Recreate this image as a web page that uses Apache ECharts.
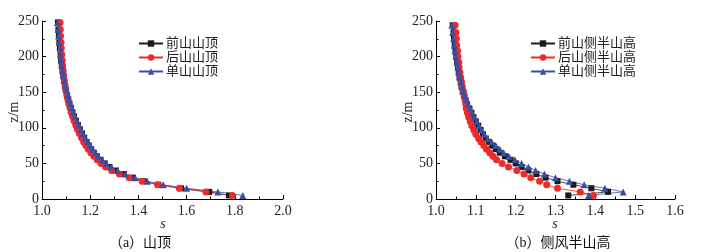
<!DOCTYPE html>
<html>
<head>
<meta charset="utf-8">
<script src="https://cdn.jsdelivr.net/npm/echarts@6/dist/echarts.min.js"></script>
<style>
  html, body { margin: 0; padding: 0; background: #fff; }
  #chart { width: 701px; height: 252px; }
</style>
</head>
<body>
<div id="chart"></div>
<script>
const SERIF = "'Liberation Serif', 'Times New Roman', 'Noto Sans CJK SC', serif";

// (a) 山顶
const heightsA = [5, 10, 15, 20, 25, 30, 35, 40, 45, 50, 55, 60, 65, 70, 75, 80, 86, 92, 98, 104,
	110, 116, 122, 128, 134, 140, 146, 153, 159, 166, 173, 180, 187, 195, 203, 212, 220, 229, 238, 248];
const qianA = [1.776, 1.694, 1.577, 1.483, 1.422, 1.378, 1.340, 1.306, 1.280, 1.260, 1.243, 1.228, 1.215, 1.204, 1.194, 1.185, 1.175, 1.166, 1.157, 1.149,
	1.141, 1.133, 1.126, 1.120, 1.114, 1.109, 1.104, 1.099, 1.095, 1.091, 1.088, 1.085, 1.082, 1.079, 1.077, 1.074, 1.072, 1.070, 1.068, 1.066];
const houA = [1.790, 1.680, 1.570, 1.480, 1.416, 1.362, 1.321, 1.289, 1.264, 1.245, 1.229, 1.215, 1.203, 1.192, 1.182, 1.173, 1.164, 1.155, 1.147, 1.140,
	1.133, 1.127, 1.121, 1.116, 1.111, 1.107, 1.103, 1.099, 1.096, 1.093, 1.090, 1.088, 1.086, 1.084, 1.082, 1.080, 1.079, 1.077, 1.076, 1.075];
const danA = [1.833, 1.730, 1.600, 1.503, 1.437, 1.386, 1.346, 1.314, 1.288, 1.267, 1.250, 1.235, 1.222, 1.210, 1.200, 1.190, 1.180, 1.170, 1.161, 1.153,
	1.145, 1.137, 1.130, 1.124, 1.118, 1.112, 1.107, 1.102, 1.097, 1.093, 1.089, 1.086, 1.083, 1.080, 1.077, 1.075, 1.072, 1.069, 1.067, 1.064];

// (b) 侧风半山高
const heightsB = [5, 10, 15, 20, 25, 30, 35, 40, 45, 50, 55, 60, 65, 70, 75, 80, 85, 91, 97, 103,
	109, 115, 121, 127, 133, 139, 145, 151, 158, 164, 171, 178, 185, 192, 200, 208, 216, 225, 234, 244];
const qianB = [1.332, 1.432, 1.390, 1.345, 1.305, 1.275, 1.252, 1.232, 1.215, 1.200, 1.187, 1.173, 1.160, 1.150, 1.141, 1.133, 1.125, 1.118, 1.112, 1.106,
	1.100, 1.094, 1.089, 1.084, 1.078, 1.074, 1.070, 1.067, 1.064, 1.062, 1.059, 1.057, 1.055, 1.053, 1.051, 1.049, 1.047, 1.045, 1.044, 1.042];
const houB = [1.395, 1.362, 1.305, 1.278, 1.260, 1.238, 1.221, 1.203, 1.182, 1.166, 1.152, 1.143, 1.135, 1.127, 1.120, 1.113, 1.107, 1.100, 1.095, 1.090,
	1.086, 1.082, 1.079, 1.076, 1.075, 1.073, 1.071, 1.069, 1.066, 1.064, 1.062, 1.060, 1.058, 1.057, 1.055, 1.054, 1.052, 1.051, 1.050, 1.048];
const danB = [1.383, 1.470, 1.424, 1.372, 1.335, 1.300, 1.272, 1.250, 1.232, 1.215, 1.198, 1.183, 1.170, 1.160, 1.150, 1.140, 1.130, 1.121, 1.114, 1.108,
	1.102, 1.096, 1.091, 1.086, 1.081, 1.077, 1.073, 1.069, 1.066, 1.063, 1.060, 1.057, 1.055, 1.053, 1.050, 1.048, 1.046, 1.044, 1.042, 1.040];

const namesA = ["前山山顶", "后山山顶", "单山山顶"];
const namesB = ["前山侧半山高", "后山侧半山高", "单山侧半山高"];
const captions = ["（a）山顶", "（b）侧风半山高"];
const xName = "s";
const yName = "z/m";

const COLORS = ["#1a1a1a", "#ee2a2a", "#3b4ea6"];
const SYMBOLS = ["rect", "circle", "triangle"];
const SIZES = [6, 7, 7];

function pairs (xs, zs) {
	return xs.map((v, i) => [v, zs[i]]);
}

function makeSeries (name, xs, zs, k, idx) {
	return {
		name: name,
		type: "line",
		xAxisIndex: idx,
		yAxisIndex: idx,
		data: pairs(xs, zs),
		symbol: SYMBOLS[k],
		symbolSize: SIZES[k],
		color: COLORS[k],
		lineStyle: { width: 0.8, color: COLORS[k] },
		itemStyle: { color: COLORS[k] },
		animation: false
	};
}

const axisCommon = {
	type: "value",
	axisLine: { show: true, lineStyle: { color: "#000", width: 1 } },
	axisTick: { show: true, inside: true, length: 4, lineStyle: { color: "#000" } },
	minorTick: { show: true, splitNumber: 2, length: 2.5, lineStyle: { color: "#000" } },
	splitLine: { show: false }
};

function xAxis (idx, max, interval) {
	return Object.assign({}, axisCommon, {
		gridIndex: idx,
		min: 1,
		max: max,
		interval: interval,
		axisLabel: { fontFamily: SERIF, fontSize: 14, color: "#222", margin: 5, formatter: v => v.toFixed(1) }
	});
}

function yAxis (idx) {
	return Object.assign({}, axisCommon, {
		gridIndex: idx,
		min: 0,
		max: 250,
		interval: 50,
		axisLabel: { fontFamily: SERIF, fontSize: 14, color: "#222", margin: 3 }
	});
}

function legend (names, left) {
	return {
		data: names,
		orient: "vertical",
		left: left,
		top: 32,
		itemWidth: 24,
		itemHeight: 8,
		itemGap: 1,
		textStyle: { fontFamily: SERIF, fontSize: 13, color: "#222", padding: [0, 0, 0, -2] }
	};
}

// axis names drawn as plain text next to each grid
function nameText (text, x, y, rotate, italic) {
	return {
		type: "text",
		x: x,
		y: y,
		rotation: rotate ? Math.PI / 2 : 0,
		style: {
			text: text,
			font: (italic ? "italic " : "") + "14px " + SERIF,
			fill: "#222",
			align: "center",
			verticalAlign: "middle"
		}
	};
}

const chart = echarts.init(document.getElementById("chart"));

const option = {
	backgroundColor: "#fff",
	animation: false,
	grid: [
		{ left: 42, top: 21, width: 241, bottom: 53 },
		{ left: 436, top: 21, width: 239, bottom: 53 }
	],
	xAxis: [xAxis(0, 2.0, 0.2), xAxis(1, 1.6, 0.1)],
	yAxis: [yAxis(0), yAxis(1)],
	legend: [legend(namesA, 133), legend(namesB, 525)],
	title: [
		{ text: captions[0], left: 135, top: 231, textAlign: "center", textStyle: { fontFamily: SERIF, fontSize: 14, fontWeight: "normal", color: "#111" } },
		{ text: captions[1], left: 553, top: 231, textAlign: "center", textStyle: { fontFamily: SERIF, fontSize: 14, fontWeight: "normal", color: "#111" } }
	],
	graphic: [
		nameText(xName, 163, 224, false, true),
		nameText(xName, 555, 224, false, true),
		nameText(yName, 14, 112, true, false),
		nameText(yName, 408, 112, true, false)
	],
	series: [
		makeSeries(namesA[0], qianA, heightsA, 0, 0),
		makeSeries(namesA[1], houA, heightsA, 1, 0),
		makeSeries(namesA[2], danA, heightsA, 2, 0),
		makeSeries(namesB[0], qianB, heightsB, 0, 1),
		makeSeries(namesB[1], houB, heightsB, 1, 1),
		makeSeries(namesB[2], danB, heightsB, 2, 1)
	]
};

chart.setOption(option);
window.onresize = chart.resize;
</script>
</body>
</html>
